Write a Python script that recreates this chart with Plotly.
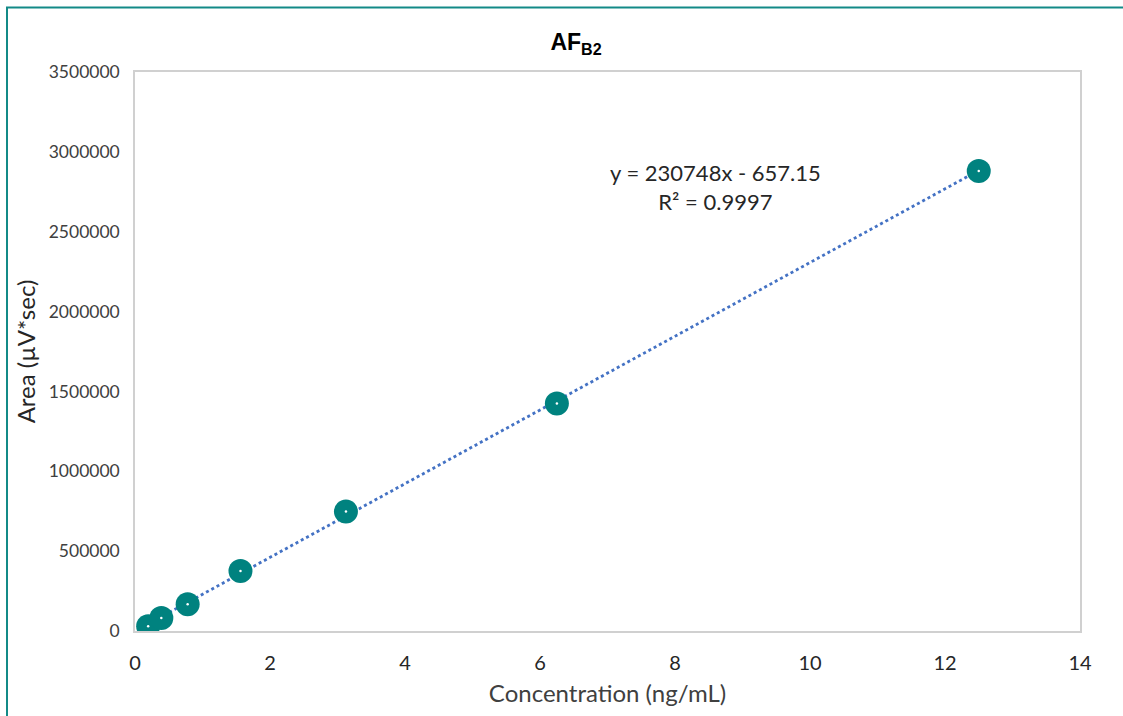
import plotly.graph_objects as go

conc = [0.195, 0.39, 0.78, 1.5625, 3.125, 6.25, 12.5]
area = [30000, 82000, 168000, 375000, 748000, 1425000, 2880000]
slope = 230748
intercept = -657.15
eq_text = "y = 230748x - 657.15<br>R² = 0.9997"
title_text = "<b>AF<sub>B2</sub></b>"

W, H = 1123, 716
L, R, T, B = 135, 43, 72, 85
pw, ph = W - L - R, H - T - B

trend_x = [min(conc), max(conc)]
trend_y = [slope * v + intercept for v in trend_x]

fig = go.Figure()
fig.add_trace(go.Scatter(x=trend_x, y=trend_y, mode="lines",
                         line=dict(color="#4472C4", width=2.8, dash="dot"),
                         hoverinfo="skip", showlegend=False))
fig.add_trace(go.Scatter(x=conc, y=area, mode="markers",
                         marker=dict(size=24, color="#00827F", line=dict(width=0)),
                         showlegend=False))
fig.add_trace(go.Scatter(x=conc, y=area, mode="markers",
                         marker=dict(size=2.5, color="white"),
                         hoverinfo="skip", showlegend=False))

font_fam = "Lato, 'Open Sans', sans-serif"
fig.update_layout(
    width=W, height=H,
    margin=dict(l=L, r=R, t=T, b=B),
    paper_bgcolor="white", plot_bgcolor="white",
    title=dict(text=title_text, x=(576) / W, xanchor="center", y=1 - 42 / H, yanchor="middle",
               font=dict(family="Arial, Liberation Sans, sans-serif", size=23, color="#000000")),
    xaxis=dict(range=[0, 14], dtick=2, showgrid=False, zeroline=False,
               showline=True, linecolor="#D0D0D0", linewidth=1.5, mirror=True,
               ticks="", ticklabelstandoff=13,
               tickfont=dict(family=font_fam, size=20, color="#262626"),
               title=dict(text="Concentration (ng/mL)", standoff=12,
                          font=dict(family=font_fam, size=24, color="#404040"))),
    yaxis=dict(range=[0, 3500000], dtick=500000, showgrid=False, zeroline=False,
               showline=True, linecolor="#D0D0D0", linewidth=1.5, mirror=True,
               ticks="", tickformat="d", ticklabelstandoff=10,
               tickfont=dict(family=font_fam, size=17.5, color="#404040"),
               title=dict(text="Area (µV*sec)", standoff=6,
                          font=dict(family=font_fam, size=24, color="#262626"))),
    annotations=[dict(text=eq_text, x=(715 - L) / pw, y=(631 - 187) / ph,
                      xref="paper", yref="paper", showarrow=False,
                      xanchor="center", yanchor="middle", align="center",
                      font=dict(family=font_fam, size=22, color="#262626"))],
    shapes=[dict(type="rect", xref="paper", yref="paper",
                 x0=(7 - L) / pw, x1=(1130 - L) / pw,
                 y0=(T + ph - 725) / ph, y1=(T + ph - 7.5) / ph,
                 line=dict(color="#138A87", width=2), layer="above")],
)

fig.write_html("out.html")
